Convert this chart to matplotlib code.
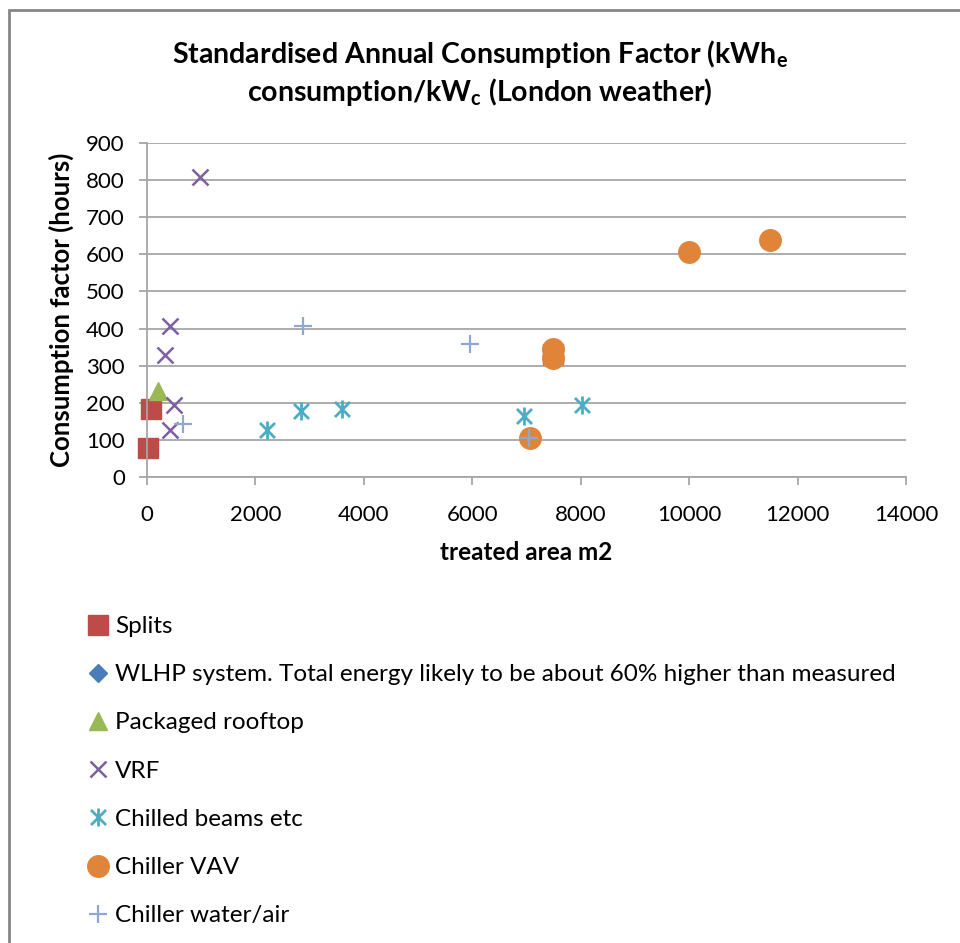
import matplotlib
matplotlib.use("Agg")
from matplotlib import pyplot as plt
from matplotlib.path import Path
from matplotlib.patches import Rectangle

plt.rcParams["font.family"] = ["Lato", "DejaVu Sans"]
plt.rcParams["mathtext.fontset"] = "custom"
plt.rcParams["mathtext.rm"] = "Lato"
plt.rcParams["mathtext.bf"] = "Lato:bold"

# data
splits_x = [10, 80, 7482]
splits_y = [77, 184, 332]
wlhp_x = []
wlhp_y = []
rooftop_x = [198]
rooftop_y = [232]
vrf_x = [976, 433, 340, 507, 433]
vrf_y = [808, 406, 328, 195, 126]
beams_x = [2222, 2840, 3593, 6957, 8025]
beams_y = [126, 177, 184, 164, 193]
vav_x = [7056, 7488, 7488, 10000, 11494]
vav_y = [104, 346, 321, 606, 638]
water_x = [661, 2870, 5957, 7050]
water_y = [144, 408, 358, 106]

x_ticks = [0, 2000, 4000, 6000, 8000, 10000, 12000, 14000]
y_ticks = [0, 100, 200, 300, 400, 500, 600, 700, 800, 900]

# Excel style star: X plus a vertical bar
star = Path([(-1, -1), (1, 1), (-1, 1), (1, -1), (0, -1.2), (0, 1.2)],
            [Path.MOVETO, Path.LINETO, Path.MOVETO, Path.LINETO,
             Path.MOVETO, Path.LINETO])

fig = plt.figure(figsize=(9.6, 9.43), dpi=100)
ax = fig.add_axes([147 / 960, 1 - 477 / 943, 759 / 960, 334 / 943])

series = [
    (splits_x, splits_y, dict(marker="s", ms=14, color="#BE4B48"), "Splits"),
    (wlhp_x, wlhp_y, dict(marker="D", ms=9, color="#4A7EBB"),
     "WLHP system. Total energy likely to be about 60% higher than measured"),
    (rooftop_x, rooftop_y, dict(marker="^", ms=13, color="#98B954"), "Packaged rooftop"),
    (vrf_x, vrf_y, dict(marker="x", ms=12, mew=1.8, color="#7D60A0"), "VRF"),
    (beams_x, beams_y, dict(marker=star, ms=13, mew=2.0, color="#4BACC6"), "Chilled beams etc"),
    (vav_x, vav_y, dict(marker="o", ms=15.5, color="#E0843A"), "Chiller VAV"),
    (water_x, water_y, dict(marker="+", ms=13, mew=1.6, color="#8EA8D2"), "Chiller water/air"),
]
for xs, ys, style, name in series:
    ax.plot(xs, ys, ls="none", clip_on=False, label=name, **style)

ax.set_xlim(0, 14000)
ax.set_ylim(0, 900)
ax.set_xticks(x_ticks)
ax.set_yticks(y_ticks)
ax.grid(axis="y", color="#A6A6A6", lw=1.3)
ax.set_axisbelow(True)
for side in ["top", "right"]:
    ax.spines[side].set_visible(False)
for side in ["left", "bottom"]:
    ax.spines[side].set_color("#A6A6A6")
    ax.spines[side].set_linewidth(1.3)
ax.tick_params(colors="#A6A6A6", length=6, width=1.3, labelcolor="black",
               labelsize=16, pad=10)
ax.tick_params(axis="x", pad=14)

ax.set_xlabel("treated area m2", fontsize=17.5, fontweight="bold", labelpad=12)
ax.set_ylabel("Consumption factor (hours)", fontsize=18.5, fontweight="bold",
              labelpad=9)

fig.text(0.5, 1 - 54 / 943,
         r"Standardised Annual Consumption Factor (kWh$_\mathbf{e}$",
         ha="center", va="center", fontsize=20.5, fontweight="bold")
fig.text(0.5, 1 - 92 / 943,
         r"consumption/kW$_\mathbf{c}$ (London weather)",
         ha="center", va="center", fontsize=20.5, fontweight="bold")

leg = ax.legend(loc="upper left", bbox_to_anchor=(88 / 960, 1 - 616 / 943),
                bbox_transform=fig.transFigure, frameon=False, fontsize=17.5,
                labelspacing=1.12, handlelength=0.8, handletextpad=0.3,
                borderpad=0, borderaxespad=0)

# chart area border
fig.patches.append(Rectangle((8.5 / 960, -0.1), 1.2, 1.1 - 10.5 / 943,
                             transform=fig.transFigure, fill=False,
                             edgecolor="#868686", lw=2.0))

fig.savefig("out.png", dpi=100)
